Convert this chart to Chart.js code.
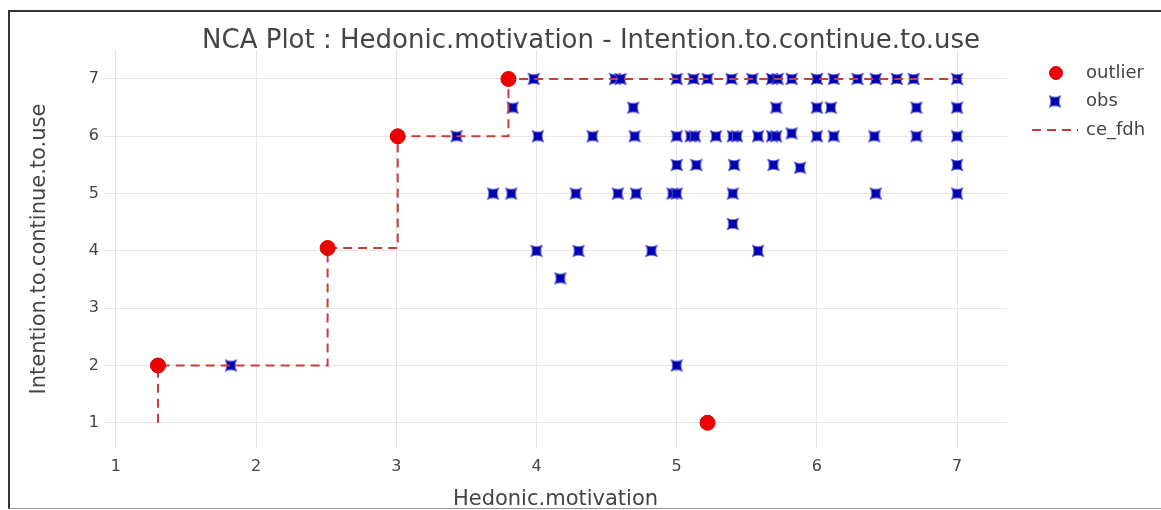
<!DOCTYPE html>
<html>
<head>
<meta charset="utf-8">
<script src="https://cdn.jsdelivr.net/npm/chart.js@4/dist/chart.umd.min.js"></script>
<style>
  html,body{margin:0;padding:0;background:#fff;}
  #wrap{position:relative;width:1161px;height:510px;overflow:hidden;}
  #frame{position:absolute;left:8px;top:10px;width:1200px;height:496px;border-top:2px solid #333;border-left:2px solid #333;border-bottom:1px solid #999;pointer-events:none;}
</style>
</head>
<body>
<div id="wrap">
  <canvas id="nca" width="1161" height="510"></canvas>
  <div id="frame"></div>
</div>
<script>
const TITLE = 'NCA Plot : Hedonic.motivation - Intention.to.continue.to.use';
const X_LABEL = 'Hedonic.motivation';
const Y_LABEL = 'Intention.to.continue.to.use';
const xTicks = [1,2,3,4,5,6,7];
const yTicks = [1,2,3,4,5,6,7];

// outliers (red dots)
const outX = [1.3, 2.51, 3.01, 3.8, 5.22];
const outY = [2, 4.05, 6, 7, 1];

// ceiling line ce_fdh (corner points of the step function)
const ceX = [1.3, 1.3, 2.51, 2.51, 3.01, 3.01, 3.8, 3.8, 7];
const ceY = [1, 2, 2, 4.05, 4.05, 6, 6, 7, 7];

// observations
const obsX = [
  3.98,4.56,4.6,5.0,5.12,5.22,5.39,5.54,5.68,5.72,5.82,6.0,6.12,6.29,6.42,6.57,6.69,7.0,
  3.83,4.69,5.71,6.0,6.1,6.71,7.0,
  3.43,4.01,4.4,4.7,5.0,5.1,5.13,5.28,5.4,5.43,5.58,5.68,5.71,5.82,6.0,6.12,6.41,6.71,7.0,
  5.0,5.14,5.41,5.69,5.88,7.0,
  3.69,3.82,4.28,4.58,4.71,4.97,5.0,5.4,6.42,7.0,
  5.4,
  4.0,4.3,4.82,5.58,
  4.17,
  1.82,5.0
];
const obsY = [
  7,7,7,7,7,7,7,7,7,7,7,7,7,7,7,7,7,7,
  6.5,6.5,6.5,6.5,6.5,6.5,6.5,
  6,6,6,6,6,6,6,6,6,6,6,6,6,6.05,6,6,6,6,6,
  5.5,5.5,5.5,5.5,5.45,5.5,
  5,5,5,5,5,5,5,5,5,5,
  4.47,
  4,4,4,4,
  3.52,
  2,2
];

const FONT = 'DejaVu Sans';
const TXT = '#444';
const pts = (xs, ys) => xs.map((x,i)=>({x, y:ys[i]}));

// plotly-like "star-square" marker
function starSquare(r, fill, stroke) {
  const c = document.createElement('canvas');
  const s = Math.ceil(r*2.2 + 4);
  c.width = s; c.height = s;
  const g = c.getContext('2d');
  const m = s/2, a = r*1.1, q = r*0.44;
  g.translate(m, m);
  g.beginPath();
  g.moveTo(-a,-a);
  g.quadraticCurveTo(-q,0,-a,a);
  g.quadraticCurveTo(0,q,a,a);
  g.quadraticCurveTo(q,0,a,-a);
  g.quadraticCurveTo(0,-q,-a,-a);
  g.closePath();
  g.fillStyle = fill; g.fill();
  g.lineWidth = 0.8; g.strokeStyle = stroke; g.stroke();
  return c;
}
const obsMark = starSquare(5.4, '#0000b0', '#6c6cd8');

const titleAndLegend = {
  id: 'titleAndLegend',
  afterDraw(chart) {
    const {ctx, chartArea} = chart;
    ctx.save();
    ctx.fillStyle = TXT;
    ctx.font = `26px "${FONT}"`;
    ctx.textAlign = 'center';
    ctx.textBaseline = 'middle';
    ctx.fillText(TITLE, 591, 41);

    const [outDs, ceDs, obsDs] = chart.data.datasets;
    const mx = chartArea.right + 49, tx = chartArea.right + 79;
    const rows = [73, 101.5, 130];
    // outlier
    ctx.beginPath();
    ctx.arc(mx, rows[0], 6.5, 0, Math.PI*2);
    ctx.fillStyle = outDs.backgroundColor; ctx.fill();
    ctx.lineWidth = 1; ctx.strokeStyle = outDs.borderColor; ctx.stroke();
    // obs
    ctx.drawImage(obsMark, mx - 1 - obsMark.width/2, rows[1] - obsMark.height/2);
    // ce_fdh
    ctx.beginPath();
    ctx.setLineDash(ceDs.borderDash);
    ctx.lineWidth = ceDs.borderWidth; ctx.strokeStyle = ceDs.borderColor;
    ctx.moveTo(chartArea.right + 25, rows[2]); ctx.lineTo(chartArea.right + 71, rows[2]);
    ctx.stroke();
    ctx.setLineDash([]);

    ctx.fillStyle = TXT;
    ctx.font = `18px "${FONT}"`;
    ctx.textAlign = 'left';
    ['outlier','obs','ce_fdh'].forEach((t,i)=>ctx.fillText(t, tx, rows[i]));
    ctx.restore();
  }
};

new Chart(document.getElementById('nca'), {
  type: 'scatter',
  data: {
    datasets: [
      {label:'outlier', data:pts(outX,outY), pointStyle:'circle', pointRadius:7.5,
       backgroundColor:'rgb(238,0,0)', borderColor:'rgb(205,0,0)', borderWidth:1, order:0},
      {label:'ce_fdh', data:pts(ceX,ceY), showLine:true, pointRadius:0, fill:false,
       borderColor:'#c83c3c', borderWidth:2, borderDash:[9,6], order:1},
      {label:'obs', data:pts(obsX,obsY), pointStyle:obsMark, pointRadius:6, order:2}
    ]
  },
  options: {
    responsive:false, animation:false,
    layout:{padding:{left:0, top:50, right:154, bottom:0}},
    plugins:{legend:{display:false}, tooltip:{enabled:false}, title:{display:false}},
    scales:{
      x:{type:'linear', min:0.915, max:7.356,
        afterBuildTicks: s => { s.ticks = xTicks.map(v=>({value:v})); },
        afterFit: s => { s.height = 62; },
        grid:{color:'#e6e6e6', lineWidth:1, drawTicks:false},
        border:{display:false},
        ticks:{color:TXT, font:{family:FONT, size:16}, padding:9, maxRotation:0},
        title:{display:true, text:X_LABEL, color:TXT, font:{family:FONT, size:21, lineHeight:1}, padding:{top:0,bottom:0}}
      },
      y:{type:'linear', min:0.56, max:7.506,
        afterBuildTicks: s => { s.ticks = yTicks.map(v=>({value:v})); },
        afterFit: s => { s.width = 104; },
        grid:{color:'#e6e6e6', lineWidth:1, drawTicks:false},
        border:{display:false},
        ticks:{color:TXT, font:{family:FONT, size:16}, padding:5},
        title:{display:true, text:Y_LABEL, color:TXT, font:{family:FONT, size:21, lineHeight:1.2}, padding:{top:27,bottom:0}}
      }
    }
  },
  plugins:[titleAndLegend]
});
</script>
</body>
</html>
